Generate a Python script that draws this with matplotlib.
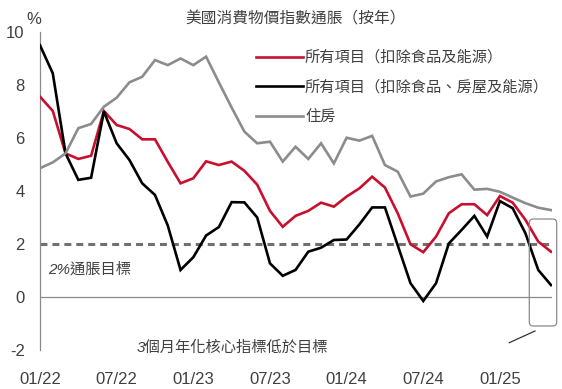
import matplotlib
matplotlib.use("Agg")
import matplotlib.pyplot as plt
import numpy as np
from matplotlib.patches import FancyBboxPatch
from matplotlib.lines import Line2D
from matplotlib.transforms import IdentityTransform

plt.rcParams['font.family'] = ['Liberation Sans', 'Noto Sans CJK TC', 'DejaVu Sans']
plt.rcParams['lines.scale_dashes'] = False

# ---- data (monthly, 01/22 .. 05/25) ----
months = [f"{m:02d}/{y:02d}" for y in range(22, 26) for m in range(1, 13)][:41]

core_ex_food_energy = [7.56, 7.02, 5.42, 5.21, 5.33, 7.02, 6.49, 6.34, 5.95, 5.95,
                       5.10, 4.29, 4.48, 5.12, 4.98, 5.11, 4.76, 4.24, 3.25, 2.65,
                       3.06, 3.25, 3.56, 3.41, 3.79, 4.10, 4.54, 4.13, 3.16, 1.99,
                       1.69, 2.28, 3.16, 3.50, 3.50, 3.09, 3.81, 3.56, 2.91, 2.09, 1.71]
core_ex_housing = [9.50, 8.44, 5.42, 4.42, 4.50, 7.00, 5.80, 5.17, 4.29, 3.85,
                   2.70, 1.02, 1.50, 2.32, 2.64, 3.58, 3.57, 3.00, 1.27, 0.80,
                   1.02, 1.71, 1.86, 2.15, 2.17, 2.74, 3.38, 3.38, 1.95, 0.52,
                   -0.15, 0.52, 2.02, 2.53, 3.06, 2.28, 3.62, 3.35, 2.40, 1.02, 0.45]
housing = [4.86, 5.08, 5.42, 6.37, 6.53, 7.18, 7.52, 8.10, 8.31, 8.94,
           8.75, 9.00, 8.75, 9.07, 8.10, 7.15, 6.24, 5.80, 5.86, 5.11,
           5.67, 5.21, 5.80, 5.04, 6.01, 5.90, 6.08, 4.98, 4.73, 3.79,
           3.90, 4.36, 4.52, 4.63, 4.05, 4.08, 3.97, 3.75, 3.54, 3.37, 3.28]

series_labels = ["所有項目（扣除食品及能源）", "所有項目（扣除食品、房屋及能源）", "住房"]
target = 2.0
tick_labels = ["01/22", "07/22", "01/23", "07/23", "01/24", "07/24", "01/25"]

RED = "#c8102e"
BLACK = "#000000"
GRAY = "#8c8c8c"
TXT = "#404040"

W, H = 562, 389
fig = plt.figure(figsize=(W / 100, H / 100), dpi=100)
ax = fig.add_axes([40 / W, 1 - 350 / H, (552.3 - 40) / W, (350 - 32) / H])

x = np.arange(len(months))
ax.axhline(0, color="#8a8a8a", lw=0.9, zorder=1)
ax.axhline(target, color="#707070", lw=2.2, dashes=(5.0, 3.6), zorder=1)

l1, = ax.plot(x, core_ex_food_energy, color=RED, lw=1.9, zorder=3, solid_joinstyle='miter')
l2, = ax.plot(x, core_ex_housing, color=BLACK, lw=1.9, zorder=3, solid_joinstyle='miter')
l3, = ax.plot(x, housing, color=GRAY, lw=1.9, zorder=3, solid_joinstyle='miter')

ax.set_xlim(0, 40.1)
ax.set_ylim(-2, 10)
ax.set_yticks([-2, 0, 2, 4, 6, 8, 10])
ax.set_yticklabels(["-2", "0", "2", "4", "6", "8", "10"])
ax.set_xticks(np.arange(0, 37, 6))
ax.set_xticklabels(tick_labels)
ax.tick_params(axis='both', length=0, labelsize=12, labelcolor=TXT)
ax.tick_params(axis='y', pad=11)
ax.tick_params(axis='x', pad=16)
for s in ['top', 'right', 'bottom']:
    ax.spines[s].set_visible(False)
ax.spines['left'].set_color("#8a8a8a")
ax.spines['left'].set_linewidth(0.9)

# % unit label
fig.text(34 / W, 1 - 20 / H, "%", ha='center', va='center', fontsize=12, color=TXT)

# title
fig.text(185 / W, 1 - 19 / H, "美國消費物價指數通脹（按年）", ha='left', va='center',
         fontsize=11.3, color=TXT, family=['Noto Sans CJK TC'])

# legend
leg = ax.legend([l1, l2, l3], series_labels, loc='upper left',
                bbox_to_anchor=(256 / W, 1 - 49 / H), bbox_transform=fig.transFigure,
                frameon=False, borderpad=0, borderaxespad=0, handlelength=3.08,
                handletextpad=0.13, labelspacing=0.82,
                prop={'family': ['Noto Sans CJK TC'], 'size': 11})
for t in leg.get_texts():
    t.set_color(TXT)

# annotations
ax.text(48 / W, 1 - 270 / H, "2%通脹目標", transform=fig.transFigure, ha='left', va='center',
        fontsize=11, color=TXT, style='italic')
fig.text(232 / W, 1 - 348 / H, "3個月年化核心指標低於目標", ha='center', va='center',
         fontsize=11, color=TXT, style='italic')

box = FancyBboxPatch((529.3, H - 326), 556.7 - 529.3, 326 - 219,
                     boxstyle="round,pad=0,rounding_size=4", transform=IdentityTransform(),
                     fill=False, edgecolor="#8a8a8a", lw=0.9, clip_on=False)
fig.patches.append(box)
fig.lines.append(Line2D([509.3, 535], [H - 342.7, H - 331], transform=IdentityTransform(),
                        color="#333333", lw=0.9))

fig.savefig("out.png", dpi=100)
